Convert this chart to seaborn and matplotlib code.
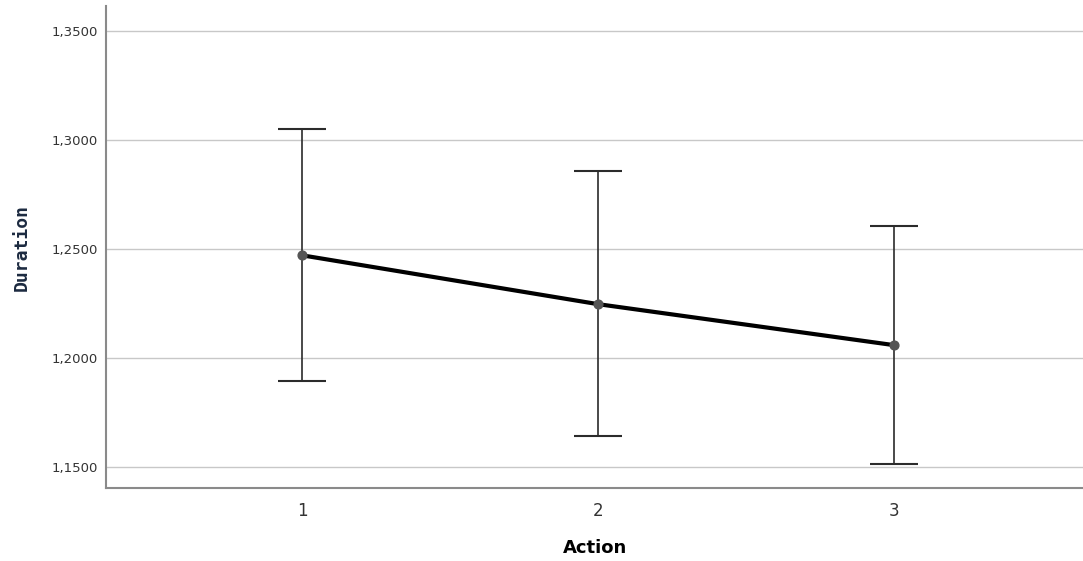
import seaborn as sns
import matplotlib.pyplot as plt
import pandas as pd

# values
actions = [1, 2, 3]
mean_duration = [1.2472, 1.2248, 1.2060]
ci_low = [1.1895, 1.1642, 1.1514]
ci_high = [1.3050, 1.2858, 1.2606]
y_ticks = [1.15, 1.20, 1.25, 1.30, 1.35]

df = pd.DataFrame({"Action": actions, "Duration": mean_duration})

sns.set_style("white")
fig = plt.figure(figsize=(10.83, 5.61), dpi=100)
ax = fig.add_axes([0.098, 0.130, 0.902, 0.859])

# gridlines
for t in y_ticks:
    ax.axhline(t, color="#c8c8c8", lw=1.0, zorder=0)

# error bars
err = [[m - lo for m, lo in zip(mean_duration, ci_low)],
       [hi - m for m, hi in zip(mean_duration, ci_high)]]
ax.errorbar(actions, mean_duration, yerr=err, fmt="none", ecolor="#2b2b2b",
            elinewidth=1.2, capsize=17.5, capthick=1.5, zorder=2)

# mean line
sns.lineplot(data=df, x="Action", y="Duration", color="black", lw=3,
             ax=ax, zorder=3)
ax.scatter(actions, mean_duration, s=40, color="#555555", zorder=4)

ax.set_xlim(0.338, 3.64)
ax.set_ylim(1.1404, 1.3615)
ax.set_xticks(actions)
ax.set_xticklabels([str(a) for a in actions], fontsize=12, color="#333333")
ax.set_yticks(y_ticks)
ax.set_yticklabels([f"{t:.4f}".replace(".", ",") for t in y_ticks],
                   fontsize=9.5, color="#333333")
ax.tick_params(axis="both", length=0, pad=6)
ax.tick_params(axis="x", pad=10)

for s in ["top", "right"]:
    ax.spines[s].set_visible(False)
for s in ["left", "bottom"]:
    ax.spines[s].set_color("#8a8a8a")
    ax.spines[s].set_linewidth(1.5)

ax.set_xlabel("Action", fontsize=13, fontweight="bold", color="black",
              labelpad=14)
ax.set_ylabel("Duration", fontsize=13, fontweight="bold",
              family="DejaVu Sans Mono", color="#1c2a40", labelpad=15)

plt.savefig("out.png", dpi=100)
